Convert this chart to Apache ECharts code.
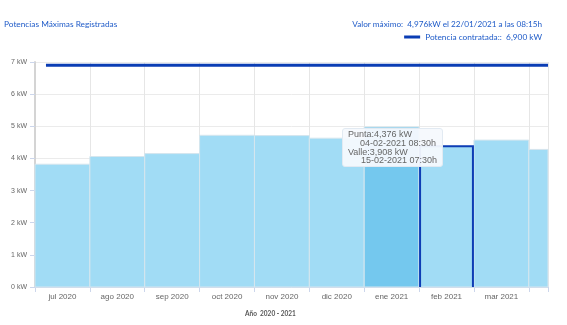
<!DOCTYPE html>
<html>
<head>
<meta charset="utf-8">
<script src="https://cdn.jsdelivr.net/npm/echarts@6/dist/echarts.min.js"></script>
<style>
html,body{margin:0;padding:0;background:#fff;}
#chart{width:567px;height:325px;}
</style>
</head>
<body>
<div id="chart"></div>
<script>
// ---- data ----
const months = ['jul 2020','ago 2020','sep 2020','oct 2020','nov 2020','dic 2020','ene 2021','feb 2021','mar 2021','abr 2021'];
const maxPower = [3.82, 4.06, 4.15, 4.72, 4.71, 4.63, 4.976, 4.376, 4.57, 4.28];
const contractedPower = 6.9;
const contractedLine = [[0.2, 6.9], [9.35, 6.9]];
const visibleMonths = 9.35;          // x extent shown (months)
const yTicks = [0, 1, 2, 3, 4, 5, 6, 7];
const maxInfo = { value: 4.976, date: '22/01/2021', time: '08:15h' };
const hoverIndex = 6;               // darker bar
const selectedIndex = 7;            // outlined bar with tooltip
const tipPunta = { value: 4.376, date: '04-02-2021 08:30h' };
const tipValle = { value: 3.908, date: '15-02-2021 07:30h' };

const fmt = v => v.toFixed(3).replace('.', ',');
const chart = echarts.init(document.getElementById('chart'), null, { renderer: 'canvas' });

function renderItem(params, api) {
  const i = api.value(0), v = api.value(1);
  const a = api.coord([i, 0]);
  const b = api.coord([i + 1, v]);
  const cs = params.coordSys;
  const rect = echarts.graphic.clipRectByRect(
    { x: a[0], y: b[1], width: b[0] - a[0], height: a[1] - b[1] },
    { x: cs.x, y: cs.y, width: cs.width, height: cs.height });
  const children = [];
  if (rect) {
    children.push({ type: 'rect', shape: rect,
      style: { fill: i === hoverIndex ? '#74c8ee' : '#a1dcf5', stroke: '#d6e6ee', lineWidth: 1 } });
  }
  if (i === selectedIndex) {
    children.push({ type: 'polyline', z2: 10,
      shape: { points: [[a[0] + 1, a[1]], [a[0] + 1, b[1]], [b[0] - 1, b[1]], [b[0] - 1, a[1]]] },
      style: { stroke: '#0d3db5', lineWidth: 2, fill: null } });
  }
  return { type: 'group', children };
}

const option = {
  animation: false,
  textStyle: { fontFamily: 'Liberation Sans' },
  title: [
    { text: 'Potencias Máximas Registradas', left: 4, top: 20, padding: 0,
      textStyle: { fontSize: 8.3, fontWeight: 'normal', color: '#1f5bc8', fontFamily: 'Lato' } },
    { text: 'Valor máximo:  ' + fmt(maxInfo.value) + 'kW el ' + maxInfo.date + ' a las ' + maxInfo.time, right: 25, top: 20, padding: 0,
      textStyle: { fontSize: 8.2, fontWeight: 'normal', color: '#1f5bc8', fontFamily: 'Lato' } },
    { text: 'Año  2020 - 2021', left: 245, top: 310, padding: 0,
      textStyle: { fontSize: 6.5, fontWeight: 'bold', color: '#555', fontFamily: 'Lato' } }
  ],
  legend: {
    right: 25, top: 33, padding: 0, icon: 'rect', itemWidth: 16, itemHeight: 3,
    data: ['contratada'],
    formatter: () => 'Potencia contratada::  ' + fmt(contractedPower) + ' kW',
    textStyle: { fontSize: 8.3, color: '#1f5bc8', fontFamily: 'Lato' }
  },
  tooltip: {
    trigger: 'item', alwaysShowContent: true, transitionDuration: 0, showDelay: 0,
    position: [342, 128],
    backgroundColor: 'rgba(245,249,253,0.95)', borderColor: '#e2eaf2', borderWidth: 1,
    padding: [1, 5],
    extraCssText: 'box-shadow:none;border-radius:3px;',
    textStyle: { fontSize: 9, color: '#666', fontFamily: 'Liberation Sans', lineHeight: 9 },
    formatter: () =>
      '<div style="line-height:8.8px;font-size:9px;color:#666">Punta:' + fmt(tipPunta.value) + ' kW<br>' +
      '<span style="padding-left:12px">' + tipPunta.date + '</span><br>' +
      'Valle:' + fmt(tipValle.value) + ' kW<br>' +
      '<span style="padding-left:13px">' + tipValle.date + '</span></div>'
  },
  grid: { left: 35, right: 19, top: 62, bottom: 38 },
  xAxis: [
    { type: 'value', min: 0, max: visibleMonths, interval: 1,
      axisLine: { show: true, lineStyle: { color: '#ccd6eb', width: 1 } },
      axisTick: { show: true, length: 5, lineStyle: { color: '#ccd6eb' } },
      axisLabel: { show: false },
      splitLine: { show: true, lineStyle: { color: '#e6e6e6' } } },
    { type: 'value', min: 0, max: visibleMonths, interval: 0.5, position: 'bottom',
      axisLine: { show: false }, axisTick: { show: false }, splitLine: { show: false },
      axisLabel: { fontSize: 8, color: '#666', margin: 6,
        formatter: v => (Math.abs((v % 1) - 0.5) < 1e-6 ? months[Math.floor(v)] : '') } }
  ],
  yAxis: {
    type: 'value', min: yTicks[0], max: yTicks[yTicks.length - 1], interval: 1,
    axisLine: { show: true, lineStyle: { color: '#d4d4d4', width: 2 } },
    axisTick: { show: true, length: 5, lineStyle: { color: '#ccd6eb' } },
    axisLabel: { fontSize: 7, color: '#666', margin: 8, formatter: '{value} kW' },
    splitLine: { show: true, lineStyle: { color: '#ebebeb' } }
  },
  series: [
    { name: 'maxima', type: 'custom', renderItem, xAxisIndex: 0,
      encode: { x: 0, y: 1 },
      data: months.map((m, i) => [i, maxPower[i]]), z: 2 },
    { name: 'contratada', type: 'line', xAxisIndex: 0, data: contractedLine,
      symbol: 'none', lineStyle: { color: '#0b3db4', width: 3 }, itemStyle: { color: '#0b3db4' },
      tooltip: { show: false }, z: 5 }
  ]
};
chart.setOption(option);
chart.dispatchAction({ type: 'showTip', seriesIndex: 0, dataIndex: selectedIndex });
</script>
</body>
</html>
